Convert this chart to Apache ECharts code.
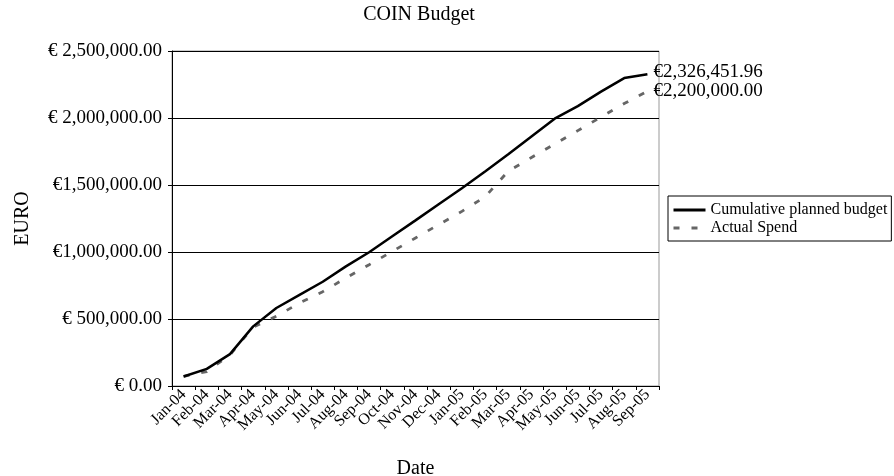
<!DOCTYPE html>
<html>
<head>
<meta charset="utf-8">
<script src="https://cdn.jsdelivr.net/npm/echarts@6/dist/echarts.min.js"></script>
<style>
html,body{margin:0;padding:0;background:#fff;}
#chart{width:894px;height:476px;}
</style>
</head>
<body>
<div id="chart"></div>
<script>
const categories = ['Jan-04','Feb-04','Mar-04','Apr-04','May-04','Jun-04','Jul-04','Aug-04','Sep-04','Oct-04','Nov-04','Dec-04','Jan-05','Feb-05','Mar-05','Apr-05','May-05','Jun-05','Jul-05','Aug-05','Sep-05'];
const plannedBudget = [71000,128000,238000,445000,582000,680000,778000,893000,998000,1117000,1236000,1356000,1476000,1601000,1729000,1862000,1995000,2089000,2197000,2298000,2326451.96];
const actualSpend = [71000,108000,232000,440000,520000,620000,704000,806000,905000,1005000,1105000,1204000,1303000,1412000,1603000,1705000,1805000,1906000,2007000,2108000,2200000];
const yTickValues = [0,500000,1000000,1500000,2000000,2500000];
const yTickLabels = ['€ 0.00','€ 500,000.00','€1,000,000.00','€1,500,000.00','€ 2,000,000.00','€ 2,500,000.00'];
const seriesNames = ['Cumulative planned budget','Actual Spend'];

const FONT = "'Liberation Serif','Times New Roman',serif";
function euro(v){
  return '€' + Number(v).toLocaleString('en-US',{minimumFractionDigits:2,maximumFractionDigits:2});
}
const chart = echarts.init(document.getElementById('chart'), null, {renderer:'canvas'});
chart.setOption({
  animation:false,
  backgroundColor:'#fff',
  textStyle:{fontFamily:FONT,color:'#000'},
  title:{
    text:'COIN Budget',
    left:414, top:0, textAlign:'center',
    textStyle:{fontFamily:FONT,fontSize:20,fontWeight:'normal',color:'#000'}
  },
  legend:{
    orient:'vertical',
    left:668, top:196,
    padding:[6,4,5,4],
    itemGap:2,
    itemWidth:32, itemHeight:15,
    borderColor:'#000', borderWidth:1,
    itemStyle:{opacity:0},
    lineStyle:{width:3},
    textStyle:{fontFamily:FONT,fontSize:16,color:'#000'},
    data:seriesNames
  },
  grid:{
    left:172, right:235, top:51, bottom:90,
    outerBoundsMode:'none',
    containLabel:false,
    show:true, borderColor:'#999', borderWidth:1, backgroundColor:'#fff'
  },
  xAxis:{
    type:'category',
    data:categories,
    boundaryGap:true,
    name:'Date',
    nameLocation:'middle',
    nameGap:73,
    nameTextStyle:{fontFamily:FONT,fontSize:20,color:'#000'},
    axisLine:{lineStyle:{color:'#000',width:1}},
    axisTick:{show:true,alignWithLabel:false,length:4,inside:false,lineStyle:{color:'#000'}},
    axisLabel:{rotate:45,fontFamily:FONT,fontSize:16,color:'#000',margin:6,interval:0},
    splitLine:{show:false}
  },
  yAxis:{
    type:'value',
    min:0, max:2500000, interval:500000,
    name:'EURO',
    nameLocation:'middle',
    nameRotate:90,
    nameGap:139,
    nameTextStyle:{fontFamily:FONT,fontSize:20,color:'#000'},
    axisLine:{show:true,lineStyle:{color:'#000',width:1}},
    axisTick:{show:true,length:4,lineStyle:{color:'#000'}},
    axisLabel:{
      fontFamily:FONT,fontSize:19,color:'#000',margin:10,
      formatter:function(v){const i=yTickValues.indexOf(v);return i>=0?yTickLabels[i]:'';}
    },
    splitLine:{show:true,lineStyle:{color:'#000',width:1}}
  },
  series:[
    {
      name:seriesNames[0],
      type:'line',
      data:plannedBudget,
      symbol:'none',
      lineStyle:{color:'#000',width:2.5},
      itemStyle:{color:'#000'},
      z:3,
      endLabel:{show:true,distance:6,offset:[0,-2],formatter:function(p){return euro(p.value);},fontFamily:FONT,fontSize:19,color:'#000'}
    },
    {
      name:seriesNames[1],
      type:'line',
      data:actualSpend,
      symbol:'none',
      lineStyle:{color:'#666',width:2.8,type:[6,12]},
      itemStyle:{color:'#666'},
      z:2,
      endLabel:{show:true,distance:6,offset:[0,0],formatter:function(p){return euro(p.value);},fontFamily:FONT,fontSize:19,color:'#000'}
    }
  ]
});
</script>
</body>
</html>
